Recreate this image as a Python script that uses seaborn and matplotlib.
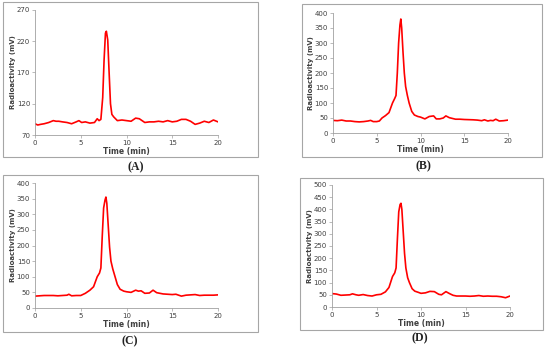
import pandas as pd
import matplotlib.pyplot as plt
import matplotlib.patches as patches
import seaborn as sns

# Radio-HPLC traces
t_a = [0, 0.3, 0.6, 1, 1.5, 2, 2.3, 2.6, 3, 3.5, 4, 4.5, 4.8, 5.1, 5.5, 6, 6.5, 6.8, 7.0, 7.2,
       7.4, 7.55, 7.7, 7.8, 7.95, 8.1, 8.25, 8.4, 8.6, 9, 9.5, 10, 10.5, 11, 11.4, 12, 12.5, 13,
       13.5, 14, 14.5, 15, 15.5, 16, 16.5, 17, 17.5, 18, 18.5, 19, 19.5, 20]
mv_a = [88, 86, 87, 88, 90, 93, 92, 92, 91, 90, 88, 91, 93, 90, 91, 89, 90, 96, 93, 95,
        130, 190, 233, 236, 222, 170, 120, 103, 99, 93, 94, 93, 92, 97, 96, 90, 91, 91,
        92, 91, 93, 91, 92, 95, 95, 92, 87, 89, 92, 90, 94, 91]

t_b = [0, 0.5, 1, 1.5, 2, 2.5, 3, 3.5, 4, 4.3, 4.6, 5, 5.3, 5.6, 6, 6.4, 6.8, 7.05, 7.2, 7.35,
       7.5, 7.65, 7.75, 7.85, 8.0, 8.15, 8.3, 8.5, 8.7, 9, 9.3, 9.7, 10, 10.5, 11, 11.5, 11.8,
       12.2, 12.6, 12.9, 13.3, 14, 14.5, 15, 16, 16.5, 17, 17.3, 17.7, 18, 18.3, 18.6, 19, 19.5, 20]
mv_b = [42, 41, 43, 40, 40, 38, 37, 38, 40, 42, 38, 38, 40, 50, 58, 68, 100, 115, 125, 200,
        300, 360, 380, 350, 270, 200, 155, 125, 100, 72, 60, 55, 53, 47, 55, 57, 47,
        47, 50, 57, 51, 46, 46, 45, 44, 43, 41, 44, 40, 42, 41, 46, 40, 41, 43]

t_c = [0, 0.5, 1, 1.5, 2, 2.5, 3, 3.5, 3.7, 4, 4.5, 5, 5.5, 6, 6.4, 6.8, 7.05, 7.2, 7.35,
       7.5, 7.65, 7.75, 7.85, 8.0, 8.15, 8.3, 8.5, 8.7, 9, 9.3, 9.7, 10, 10.5, 11, 11.3, 11.6,
       12, 12.5, 12.9, 13.3, 14, 14.5, 15, 15.4, 16, 16.5, 17, 17.5, 18, 18.5, 19, 19.5, 20]
mv_c = [38, 39, 40, 40, 40, 39, 40, 41, 44, 39, 40, 40, 47, 57, 68, 100, 112, 128, 230,
        320, 345, 355, 335, 265, 195, 150, 125, 105, 75, 60, 54, 52, 50, 57, 54, 55,
        47, 48, 57, 49, 45, 44, 43, 44, 38, 41, 42, 43, 40, 41, 41, 41, 42]

t_d = [0, 0.5, 1, 1.5, 2, 2.3, 2.7, 3, 3.5, 4, 4.5, 5, 5.5, 6, 6.4, 6.8, 7.05, 7.2, 7.35,
       7.5, 7.65, 7.75, 7.85, 8.0, 8.15, 8.3, 8.5, 8.7, 9, 9.3, 9.7, 10, 10.5, 11, 11.5, 12,
       12.3, 12.8, 13.2, 13.6, 14, 15, 15.5, 16, 16.5, 17, 17.5, 18, 18.5, 19, 19.5, 20]
mv_d = [55, 53, 48, 49, 50, 54, 50, 48, 51, 47, 45, 50, 52, 62, 80, 125, 140, 160, 280,
        390, 420, 425, 400, 310, 220, 160, 120, 100, 75, 65, 60, 56, 58, 64, 63, 52,
        50, 63, 55, 48, 45, 45, 44, 45, 47, 44, 45, 44, 44, 42, 38, 45]

panels = [
    ("(A)", t_a, mv_a, (70, 270), [70, 120, 170, 220, 270]),
    ("(B)", t_b, mv_b, (0, 400), list(range(0, 401, 50))),
    ("(C)", t_c, mv_c, (0, 400), list(range(0, 401, 50))),
    ("(D)", t_d, mv_d, (0, 500), list(range(0, 501, 50))),
]

# layout in figure pixels (550 x 350)
W, H = 550, 350
axes_px = [(35, 10, 218, 135), (333, 13, 508, 133), (35, 183, 218, 308), (332, 185, 510, 307)]
box_px = [(3, 2, 258, 157), (302, 4, 542, 157), (3, 175, 258, 332), (300, 178, 543, 330)]
label_px = [(136, 167), (423, 166), (130, 341), (420, 338)]

sns.set_style("white")
plt.rcParams['font.family'] = ['DejaVu Sans']

fig = plt.figure(figsize=(5.5, 3.5), dpi=100)

for (lab, t, mv, ylim, yt), (x0, y0, x1, y1), (bx0, by0, bx1, by1), (lx, ly) in zip(
        panels, axes_px, box_px, label_px):
    fig.patches.append(patches.Rectangle(
        (bx0 / W, 1 - by1 / H), (bx1 - bx0) / W, (by1 - by0) / H,
        transform=fig.transFigure, fill=False, edgecolor='#a6a6a6', lw=0.8))
    ax = fig.add_axes([x0 / W, 1 - y1 / H, (x1 - x0) / W, (y1 - y0) / H])
    df = pd.DataFrame({'Time (min)': t, 'Radioactivity (mV)': mv})
    sns.lineplot(data=df, x='Time (min)', y='Radioactivity (mV)', color='#ff0000', lw=1.2, ax=ax)
    ax.set_xlim(0, 20)
    ax.set_ylim(*ylim)
    ax.set_xticks([0, 5, 10, 15, 20])
    ax.set_yticks(yt)
    ax.tick_params(labelsize=5, colors='#404040', length=2, width=0.5, pad=1.5, direction='out',
                   color='#a0a0a0')
    ax.tick_params(left=True, bottom=True)
    for side in ['top', 'right']:
        ax.spines[side].set_visible(False)
    for side in ['left', 'bottom']:
        ax.spines[side].set_color('#a0a0a0')
        ax.spines[side].set_linewidth(0.6)
    ax.set_xlabel('Time (min)', fontsize=5.5, fontweight='bold', color='#404040', labelpad=0.5)
    ax.set_ylabel('Radioactivity (mV)', fontsize=5, fontweight='bold', color='#404040', labelpad=0.5)
    fig.text(lx / W, 1 - ly / H, lab, ha='center', va='center', fontsize=8.5,
             fontweight='bold', family='Liberation Serif', color='#222222')

fig.savefig('out.png', dpi=100)
